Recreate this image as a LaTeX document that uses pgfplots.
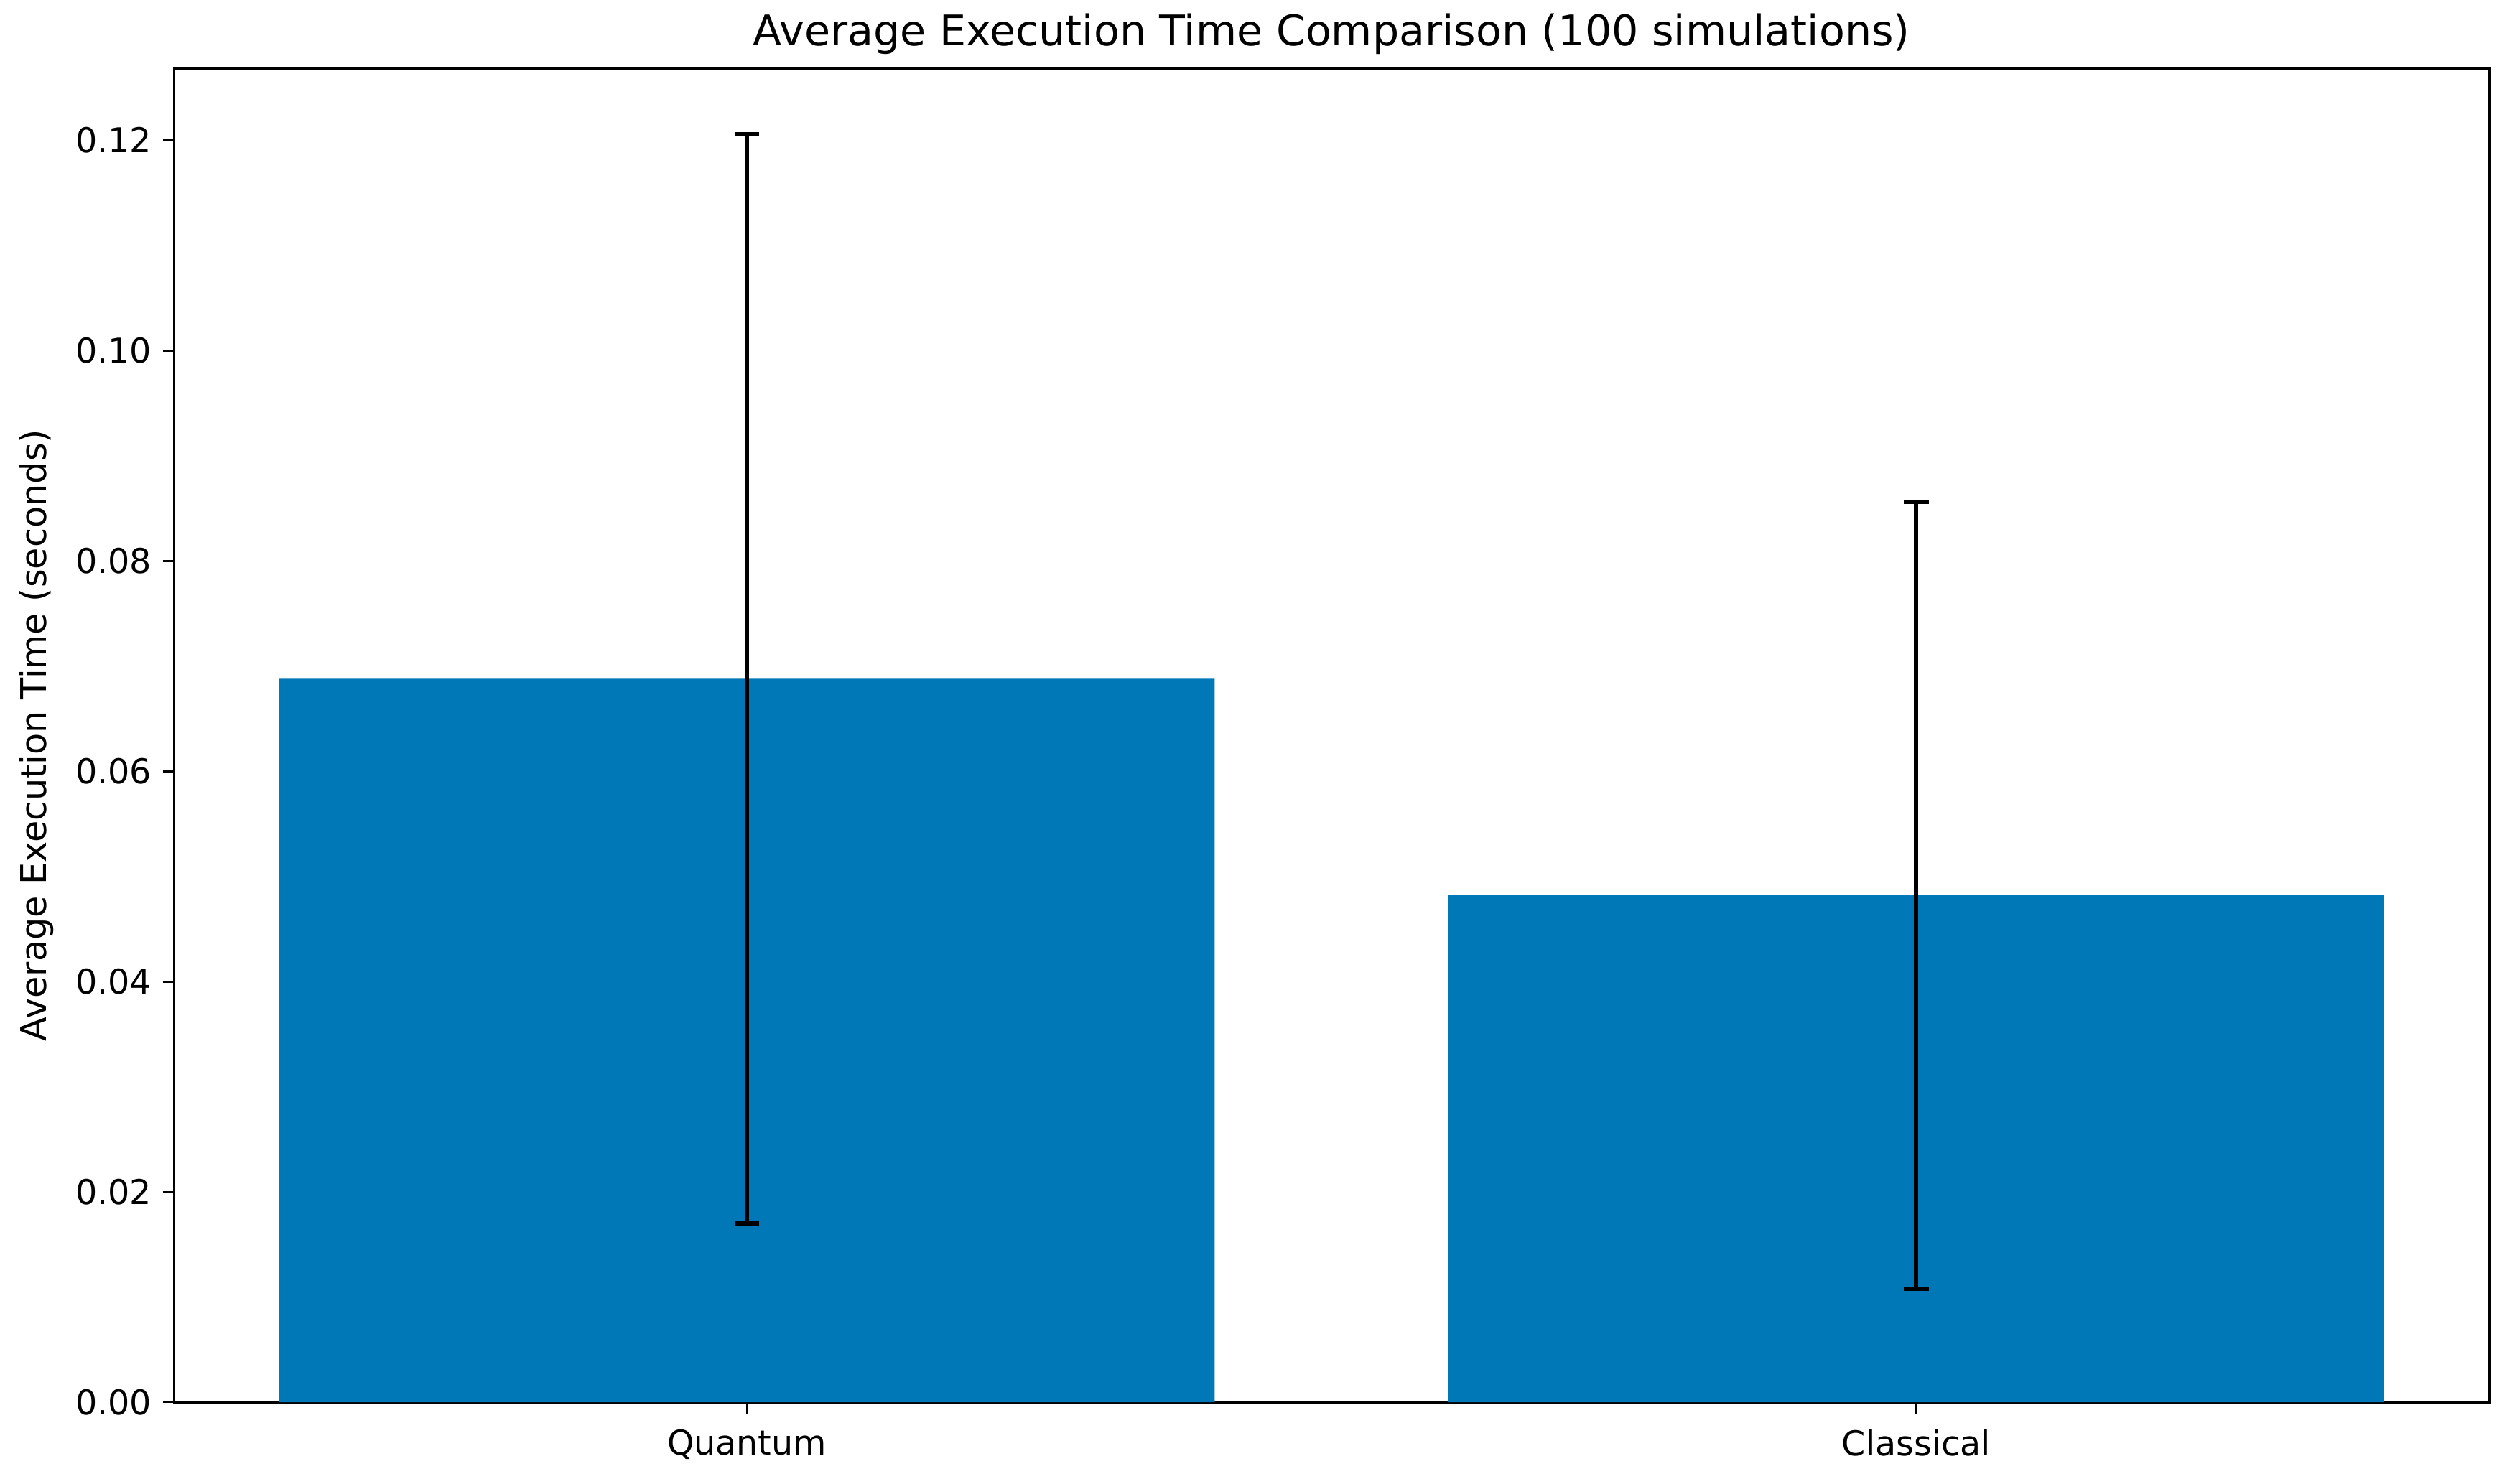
\documentclass[border=0pt]{standalone}
\usepackage{fontspec}
\setmainfont{DejaVu Sans}
\usepackage{pgfplots}
\pgfplotsset{compat=1.18}
\definecolor{barblue}{RGB}{0,119,182}
\begin{document}
\begin{tikzpicture}
\begin{axis}[
    scale only axis,
    width=725.5pt, height=418pt,
    xmin=-0.49, xmax=1.49,
    ymin=0, ymax=0.12683,
    axis line style={line width=0.7pt},
    tick style={black, line width=0.6pt},
    tick align=outside,
    major tick length=3.5pt,
    xtick={0,1},
    xticklabels={Quantum, Classical},
    xticklabel style={yshift=-1.5pt},
    ytick={0,0.02,0.04,0.06,0.08,0.10,0.12},
    yticklabel style={/pgf/number format/.cd, fixed, fixed zerofill, precision=2},
    /pgf/number format/assume math mode=true,
    tick label style={font=\fontsize{10.7}{12}\selectfont},
    xtick pos=bottom, ytick pos=left,
    scaled y ticks=false,
    ylabel={Average Execution Time (seconds)},
    ylabel style={font=\fontsize{11.1}{12}\selectfont},
    title={Average Execution Time Comparison (100 simulations)},
    title style={font=\fontsize{13.2}{14}\selectfont, yshift=-5pt},
    ybar, bar width=0.8,
  ]
  \addplot[fill=barblue, draw=none,
    error bars/.cd, y dir=both, y explicit,
    error bar style={black, line width=1.3pt},
    error mark options={black, line width=1.3pt, mark size=3.9pt, rotate=90}]
    coordinates {
      (0,0.0688) +- (0,0.0518)
      (1,0.0482) +- (0,0.0374)
    };
\end{axis}
\path (current axis.south west) ++(-54.5pt,-25.5pt) coordinate (bbA);
\path (current axis.north east) ++(4pt,21.5pt) coordinate (bbB);
\path (bbA) rectangle (bbB);
\end{tikzpicture}
\end{document}
